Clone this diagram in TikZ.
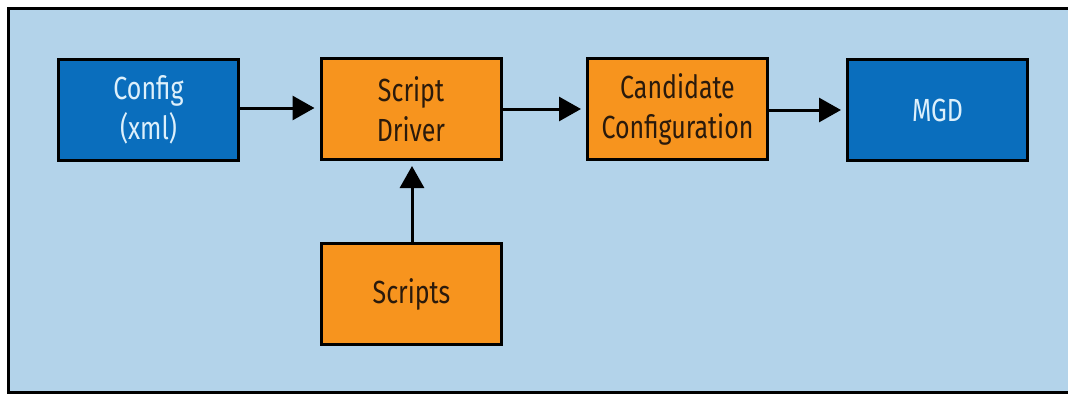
\documentclass[tikz,border=0pt]{standalone}
\usepackage{fontspec}
\setmainfont{Fira Sans}[FakeStretch=0.78]
\usetikzlibrary{arrows.meta}
\definecolor{bgblue}{HTML}{B3D3EA}
\definecolor{boxblue}{HTML}{0A6EBD}
\definecolor{boxorange}{HTML}{F7941E}
\definecolor{txtlight}{HTML}{DDF0FB}
\definecolor{txtdark}{HTML}{2A1A0C}
\tikzset{
  box/.style={draw=black, line width=3pt, minimum width=180pt, minimum height=101pt,
    inner sep=0pt, align=center, font=\fontsize{32}{40}\selectfont},
  bluebox/.style={box, fill=boxblue, text=txtlight},
  orangebox/.style={box, fill=boxorange, text=txtdark},
  conn/.style={line width=3pt, -{Triangle[length=22pt,width=24pt]}, shorten >=5pt}
}
\begin{document}
\begin{tikzpicture}[x=1pt,y=-1pt]
\useasboundingbox (0,0) rectangle (1068,396);
\fill[white] (0,0) rectangle (1068,396);
\begin{scope}
\clip (0,0) rectangle (1068,396);
\draw[line width=3pt, fill=bgblue] (8.5,8.5) rectangle (1080,392.5);
\end{scope}
\node[bluebox] (config) at (148.5,110) {Config\\(xml)};
\node[orangebox] (driver) at (411,109) {Script\\Driver};
\node[orangebox] (cand) at (677.5,109) {Candidate\\Configuration};
\node[bluebox] (mgd) at (937.5,110) {MGD};
\node[orangebox] (scripts) at (411.5,294) {Scripts};
\draw[conn] (config.east |- 0,108) -- (driver.west |- 0,108);
\draw[conn] (driver.east |- 0,109) -- (cand.west |- 0,109);
\draw[conn] (cand.east |- 0,110) -- (mgd.west |- 0,110);
\draw[conn] (scripts.north -| 412,0) -- (driver.south -| 412,0);
\end{tikzpicture}
\end{document}
